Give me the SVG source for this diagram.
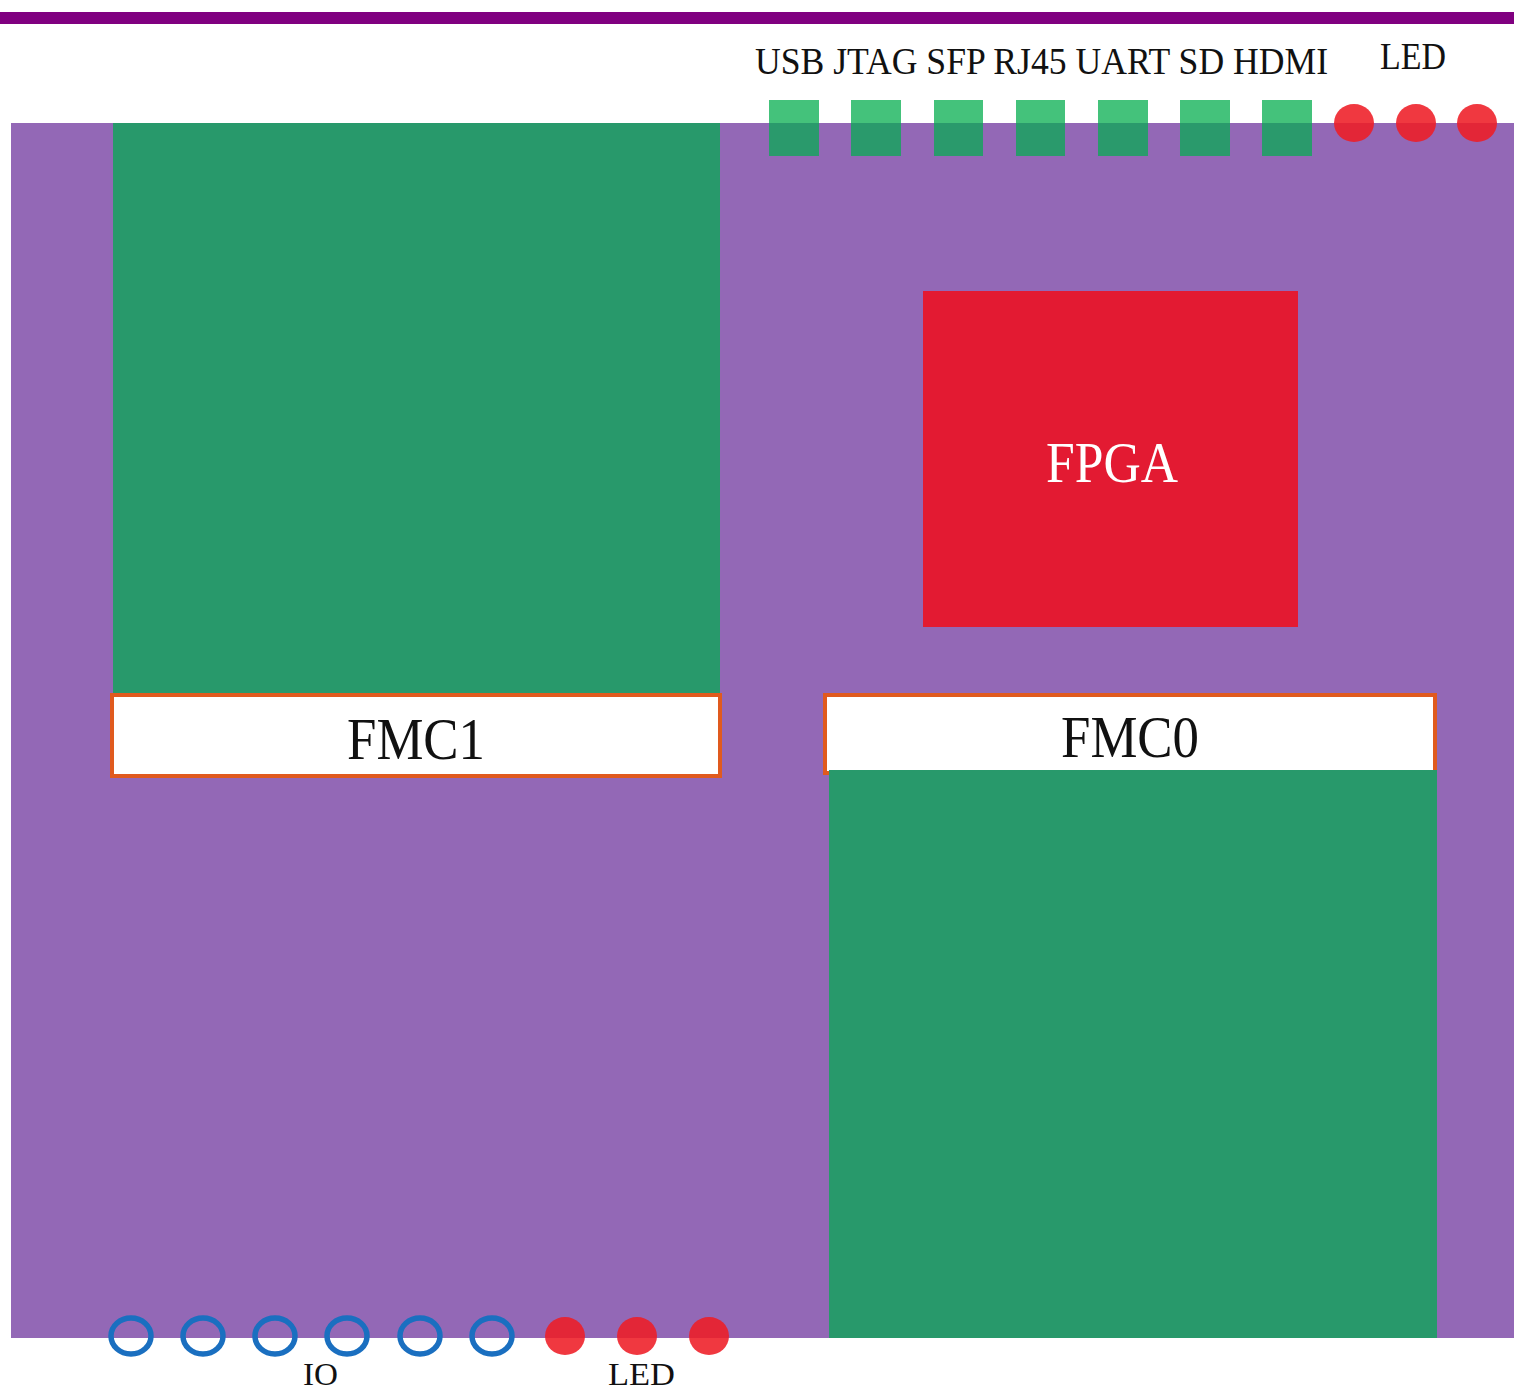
<svg xmlns="http://www.w3.org/2000/svg" width="1514" height="1393" viewBox="0 0 1514 1393">
<style>
.lbl{font-family:"Liberation Serif","DejaVu Serif",serif;fill:#111;}
.conUp{fill:#44c27b;}
.conDn{fill:#2a9a6c;}
.led{fill:#ee1c25;fill-opacity:0.88;}
.io{fill:none;stroke:#1a6fc0;stroke-width:5.5;}
.fmcbox{fill:#ffffff;stroke:#e05a1e;stroke-width:4;}
.green{fill:#28996b;}
</style>
<rect x="0" y="0" width="1514" height="1393" fill="#ffffff"/>
<rect id="topbar" x="0" y="12" width="1514" height="12" fill="#800080"/>
<g id="board"><rect x="11" y="123" width="1503" height="1215" fill="#9368b6"/></g>
<g id="fmc1">
<rect class="green" x="113" y="123" width="607" height="572"/>
<rect class="fmcbox" x="112" y="695" width="608" height="81"/>
<text class="lbl" x="416" y="759" font-size="60" text-anchor="middle" textLength="138" lengthAdjust="spacingAndGlyphs">FMC1</text>
</g>
<g id="fmc0">
<rect class="fmcbox" x="825" y="695" width="610" height="78"/>
<rect class="green" x="829" y="770" width="608" height="568"/>
<text class="lbl" x="1130" y="757" font-size="60" text-anchor="middle" textLength="138" lengthAdjust="spacingAndGlyphs">FMC0</text>
</g>
<g id="fpga">
<rect x="923" y="291" width="375" height="336" fill="#e31a32"/>
<text x="1112" y="482" font-family="Liberation Serif,DejaVu Serif,serif" font-size="58" fill="#ffffff" text-anchor="middle" textLength="132" lengthAdjust="spacingAndGlyphs">FPGA</text>
</g>
<g id="connectors-top">
<g id="usb"><rect class="conUp" x="769" y="100" width="50" height="23"/><rect class="conDn" x="769" y="123" width="50" height="33"/></g>
<g id="jtag"><rect class="conUp" x="851" y="100" width="50" height="23"/><rect class="conDn" x="851" y="123" width="50" height="33"/></g>
<g id="sfp"><rect class="conUp" x="934" y="100" width="49" height="23"/><rect class="conDn" x="934" y="123" width="49" height="33"/></g>
<g id="rj45"><rect class="conUp" x="1016" y="100" width="49" height="23"/><rect class="conDn" x="1016" y="123" width="49" height="33"/></g>
<g id="uart"><rect class="conUp" x="1098" y="100" width="50" height="23"/><rect class="conDn" x="1098" y="123" width="50" height="33"/></g>
<g id="sd"><rect class="conUp" x="1180" y="100" width="50" height="23"/><rect class="conDn" x="1180" y="123" width="50" height="33"/></g>
<g id="hdmi"><rect class="conUp" x="1262" y="100" width="50" height="23"/><rect class="conDn" x="1262" y="123" width="50" height="33"/></g>
<g id="led-top">
<ellipse class="led" cx="1354" cy="123" rx="20" ry="19"/>
<ellipse class="led" cx="1416" cy="123" rx="20" ry="19"/>
<ellipse class="led" cx="1477" cy="123" rx="20" ry="19"/>
</g>
</g>
<text class="lbl" x="755" y="74" font-size="38" textLength="573" lengthAdjust="spacingAndGlyphs">USB JTAG SFP RJ45 UART SD HDMI</text>
<text class="lbl" x="1380" y="69" font-size="38" textLength="66" lengthAdjust="spacingAndGlyphs">LED</text>
<g id="io">
<ellipse class="io" cx="131" cy="1336" rx="20" ry="18"/>
<ellipse class="io" cx="203" cy="1336" rx="20" ry="18"/>
<ellipse class="io" cx="275" cy="1336" rx="20" ry="18"/>
<ellipse class="io" cx="347" cy="1336" rx="20" ry="18"/>
<ellipse class="io" cx="420" cy="1336" rx="20" ry="18"/>
<ellipse class="io" cx="492" cy="1336" rx="20" ry="18"/>
</g>
<g id="led-bottom">
<ellipse class="led" cx="565" cy="1336" rx="20" ry="19"/>
<ellipse class="led" cx="637" cy="1336" rx="20" ry="19"/>
<ellipse class="led" cx="709" cy="1336" rx="20" ry="19"/>
</g>
<text class="lbl" x="303" y="1385" font-size="32" textLength="35" lengthAdjust="spacingAndGlyphs">IO</text>
<text class="lbl" x="608" y="1385" font-size="32" textLength="67" lengthAdjust="spacingAndGlyphs">LED</text>
</svg>
